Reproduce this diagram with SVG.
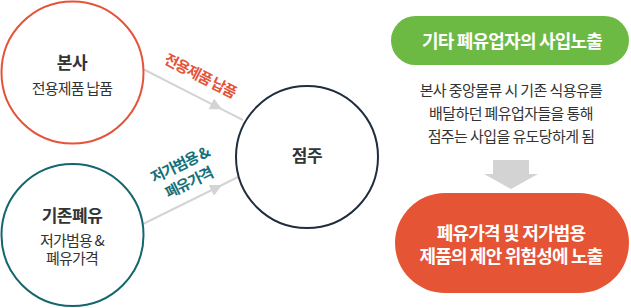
<svg xmlns="http://www.w3.org/2000/svg" width="631" height="308" viewBox="0 0 631 308">
  <defs>
    <style>
      text { font-family: "Noto Sans CJK KR", "Noto Sans", sans-serif; text-anchor: middle; }
      .title { font-size: 17px; font-weight: 700; fill: #333333; letter-spacing: -0.5px; }
      .sub { font-size: 15px; fill: #333333; letter-spacing: -0.8px; }
      .pill { font-size: 18px; font-weight: 700; fill: #ffffff; letter-spacing: -0.8px; }
      .body { font-size: 15px; fill: #333333; letter-spacing: -0.6px; }
      .lbl { font-size: 15px; font-weight: 700; letter-spacing: -1.2px; }
      .conn { fill: none; stroke: #d4d4d4; stroke-width: 2; }
      .node { fill: #ffffff; stroke-width: 2; }
    </style>
    <marker id="ah" markerUnits="userSpaceOnUse" markerWidth="14" markerHeight="14" refX="12" refY="6" orient="auto">
      <path d="M0,0 L12,6 L0,12 Z" fill="#d4d4d4"/>
    </marker>
  </defs>

  <g id="connectors">
    <polyline class="conn" points="143,69 222,109.3 243,120" marker-mid="url(#ah)"/>
    <polyline class="conn" points="143,224 222,185 238,177" marker-mid="url(#ah)"/>
    <text class="lbl" fill="#e5533a" transform="translate(200,76) rotate(27)" y="5">전용제품 납품</text>
    <text class="lbl" fill="#16707a" transform="translate(180,165) rotate(-26)" y="5">저가범용 &amp;</text>
    <text class="lbl" fill="#16707a" transform="translate(189,183) rotate(-26)" y="5">폐유가격</text>
  </g>

  <g id="node-bonsa">
    <circle class="node" cx="72.5" cy="72.5" r="71" stroke="#e5533a"/>
    <text class="title" x="72" y="69">본사</text>
    <text class="sub" x="72" y="94">전용제품 납품</text>
  </g>

  <g id="node-gijon">
    <circle class="node" cx="72.5" cy="235" r="71" stroke="#16666e"/>
    <text class="title" x="72" y="222">기존폐유</text>
    <text class="sub" x="72" y="246">저가범용 &amp;</text>
    <text class="sub" x="72" y="264">폐유가격</text>
  </g>

  <g id="node-jeomju">
    <circle class="node" cx="307" cy="157" r="71" stroke="#1f2d3d"/>
    <text class="title" x="307" y="162">점주</text>
  </g>

  <g id="node-green">
    <rect x="391" y="16" width="238" height="49" rx="24.5" fill="#6cb944"/>
    <text class="pill" x="512" y="48">기타 폐유업자의 사입노출</text>
  </g>

  <g id="node-desc">
    <text class="body" x="511" y="96">본사 중앙물류 시 기존 식용유를</text>
    <text class="body" x="511" y="119">배달하던 폐유업자들을 통해</text>
    <text class="body" x="511" y="142">점주는 사입을 유도당하게 됨</text>
  </g>

  <g id="down-arrow">
    <path d="M493,160 H529 V174 H538 L511,189 L484,174 H493 Z" fill="#d3d3d3"/>
  </g>

  <g id="node-red">
    <rect x="395" y="193" width="234" height="100" rx="50" fill="#e55434"/>
    <text class="pill" x="511" y="240">폐유가격 및 저가범용</text>
    <text class="pill" x="511" y="263">제품의 제안 위험성에 노출</text>
  </g>
</svg>
